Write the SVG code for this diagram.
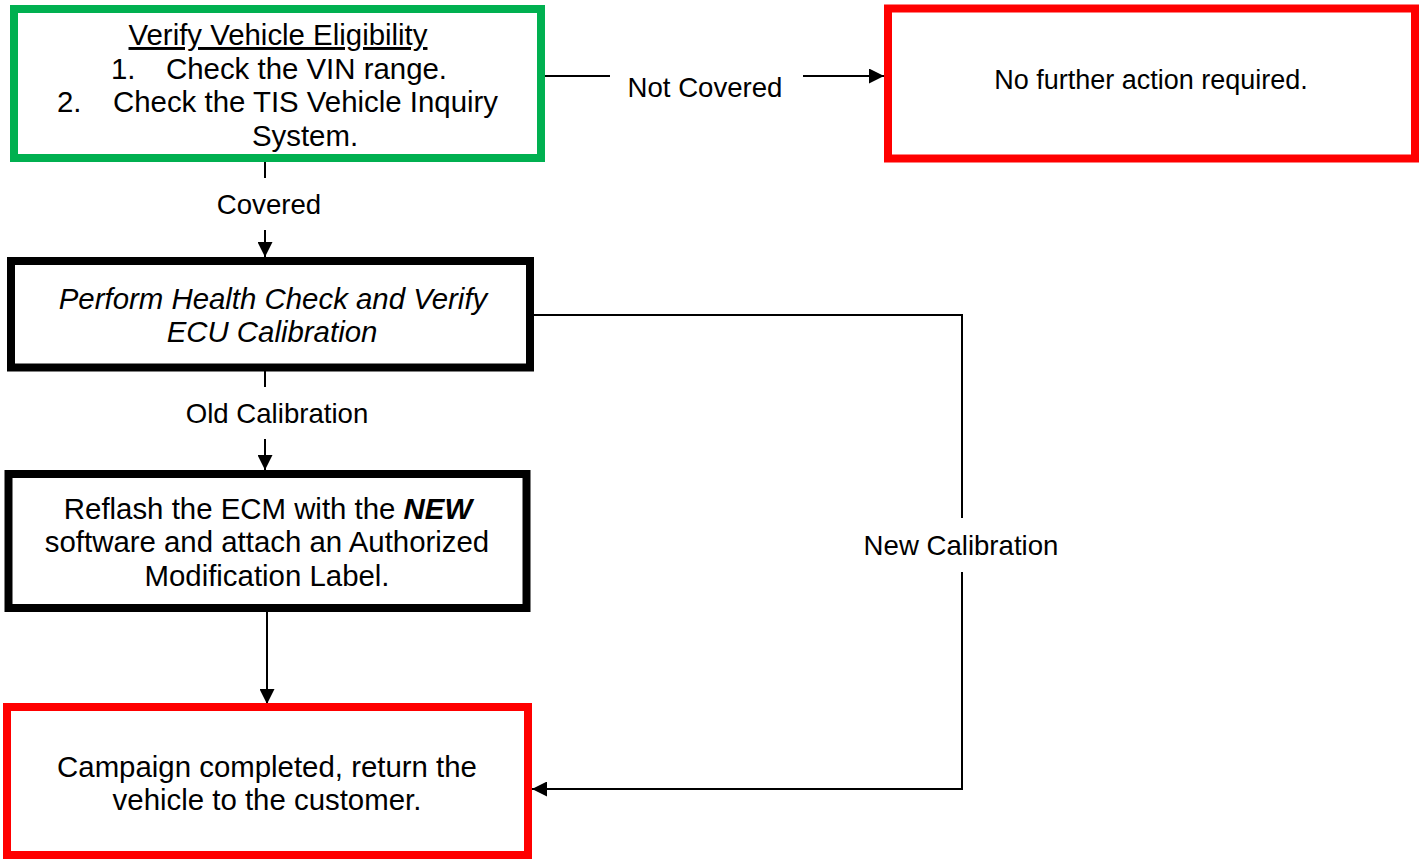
<svg xmlns="http://www.w3.org/2000/svg" width="1424" height="859" viewBox="0 0 1424 859">
  <style>
    .box { fill: #ffffff; stroke-width: 8; }
    .green { stroke: #00B050; }
    .red { stroke: #FF0000; }
    .black { stroke: #000000; }
    .t { font-family: "Liberation Sans", Arial, sans-serif; font-size: 29.4px; fill: #000000; }
    .lbl { font-family: "Liberation Sans", Arial, sans-serif; font-size: 27.6px; fill: #000000; text-anchor: middle; }
    .c { text-anchor: middle; }
    .wire { fill: none; stroke: #000000; stroke-width: 2; }
  </style>
  <defs>
    <marker id="arrow" markerUnits="userSpaceOnUse" markerWidth="15" markerHeight="15" refX="15" refY="7.5" orient="auto">
      <path d="M0,0 L15,7.5 L0,15 z" fill="#000000"/>
    </marker>
  </defs>

  <rect x="0" y="0" width="1424" height="859" fill="#ffffff"/>

  <!-- connectors -->
  <g id="connectors">
    <line class="wire" x1="545" y1="76" x2="610" y2="76"/>
    <line class="wire" x1="803" y1="76" x2="884" y2="76" marker-end="url(#arrow)"/>
    <text class="lbl" x="705" y="97">Not Covered</text>

    <line class="wire" x1="265" y1="162" x2="265" y2="178"/>
    <line class="wire" x1="265" y1="230" x2="265" y2="257" marker-end="url(#arrow)"/>
    <text class="lbl" x="269" y="214">Covered</text>

    <line class="wire" x1="265" y1="371" x2="265" y2="387"/>
    <line class="wire" x1="265" y1="439" x2="265" y2="470" marker-end="url(#arrow)"/>
    <text class="lbl" x="277" y="423">Old Calibration</text>

    <line class="wire" x1="267" y1="612" x2="267" y2="704" marker-end="url(#arrow)"/>

    <polyline class="wire" points="534,315 962,315 962,518"/>
    <polyline class="wire" points="962,572 962,789 532,789" marker-end="url(#arrow)"/>
    <text class="lbl" x="961" y="555">New Calibration</text>
  </g>

  <!-- eligibility check -->
  <g id="verify-eligibility">
    <rect class="box green" x="14" y="9" width="527" height="149"/>
    <text class="t c" x="278" y="45" text-decoration="underline">Verify Vehicle Eligibility</text>
    <text class="t" y="78.5"><tspan x="111">1.</tspan><tspan x="166">Check the VIN range.</tspan></text>
    <text class="t" y="112"><tspan x="57">2.</tspan><tspan x="113">Check the TIS Vehicle Inquiry</tspan></text>
    <text class="t c" x="305" y="145.5">System.</text>
  </g>

  <!-- not covered outcome -->
  <g id="no-action">
    <rect class="box red" x="888" y="8.5" width="527" height="150"/>
    <text class="t c" x="1151" y="89" style="font-size:27px">No further action required.</text>
  </g>

  <!-- health check -->
  <g id="health-check">
    <rect class="box black" x="11" y="261" width="519" height="106.5"/>
    <text class="t c" x="273" y="308.5" font-style="italic">Perform Health Check and Verify</text>
    <text class="t c" x="272" y="342" font-style="italic">ECU Calibration</text>
  </g>

  <!-- reflash -->
  <g id="reflash">
    <rect class="box black" x="8.5" y="474" width="518" height="134"/>
    <text class="t c" x="268" y="518.5">Reflash the ECM with the <tspan font-weight="bold" font-style="italic">NEW</tspan></text>
    <text class="t c" x="267" y="552">software and attach an Authorized</text>
    <text class="t c" x="267" y="586">Modification Label.</text>
  </g>

  <!-- campaign completed -->
  <g id="completed">
    <rect class="box red" x="7" y="707" width="521" height="148"/>
    <text class="t c" x="267" y="777">Campaign completed, return the</text>
    <text class="t c" x="267" y="810">vehicle to the customer.</text>
  </g>
</svg>
